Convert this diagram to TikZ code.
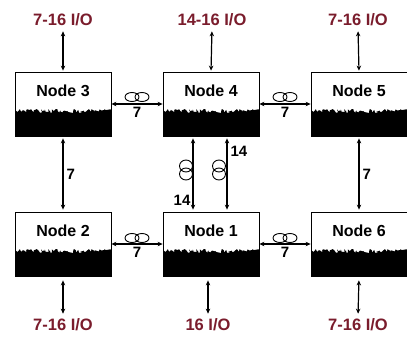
\documentclass[tikz,border=0pt]{standalone}
\usepackage{fontspec}
\setmainfont{Liberation Sans}
\usetikzlibrary{positioning}
\usetikzlibrary{arrows.meta}
\usetikzlibrary{decorations.pathmorphing}
\definecolor{iored}{RGB}{122,28,44}

\begin{document}
\begin{tikzpicture}[x=1pt,y=-1pt,
  box/.style={draw,line width=0.8pt,minimum width=96pt,minimum height=64pt,
    inner ysep=12.5pt,text height=12pt,text depth=27pt,font=\bfseries\fontsize{16}{18}\selectfont,
    path picture={\pgfmathsetseed{7}
      \fill ([yshift=25pt]path picture bounding box.south west)
        decorate[decoration={random steps,segment length=1pt,amplitude=2pt}]
        {-- ([yshift=25pt]path picture bounding box.south east)}
        -- (path picture bounding box.south east) -- (path picture bounding box.south west) -- cycle;}},
  io/.style={text=iored,font=\bfseries\fontsize{16.5}{18}\selectfont,inner sep=2pt},
  num/.style={font=\bfseries\fontsize{15}{17}\selectfont,inner sep=1pt},
  link/.style={line width=1.2pt,{Stealth[length=5pt,width=4.5pt]}-{Stealth[length=5pt,width=4.5pt]}},
  coil/.style={line width=0.9pt}]
\useasboundingbox (0,0) rectangle (407,343);

% the six nodes
\node[box] (n3) at (63,104) {Node 3};
\node[box] (n4) at (211,104) {Node 4};
\node[box] (n5) at (359,104) {Node 5};
\node[box] (n2) at (63,244) {Node 2};
\node[box] (n1) at (211,244) {Node 1};
\node[box] (n6) at (359,244) {Node 6};

% I/O labels
\node[io] (t3) at (63,20) {7-16 I/O};
\node[io] (t4) at (212,20) {14-16 I/O};
\node[io] (t5) at (358,20) {7-16 I/O};
\node[io] (b2) at (63,325) {7-16 I/O};
\node[io] (b1) at (208,325) {16 I/O};
\node[io] (b6) at (358,325) {7-16 I/O};

\draw[link,shorten <=3pt,shorten >=1pt] (t3.south) -- (n3.north);
\draw[link,shorten <=3pt,shorten >=1pt] (t4.south) -- (n4.north);
\draw[link,shorten <=3pt,shorten >=1pt] (t5.south) -- (n5.north);
\draw[link,shorten <=4pt,shorten >=3pt] (n2.south) -- (b2.north);
\draw[link,shorten <=4pt,shorten >=3pt] ([xshift=-3pt]n1.south) -- (b1.north);
\draw[link,shorten <=4pt,shorten >=3pt] (n6.south) -- (b6.north);

% links between nodes
\draw[link] (n3.east) -- node[num,below=2pt] {7} (n4.west);
\draw[link] (n4.east) -- node[num,below=2pt] {7} (n5.west);
\draw[link] (n2.east) -- node[num,below=2pt] {7} (n1.west);
\draw[link] (n1.east) -- node[num,below=2pt] {7} (n6.west);
\draw[link,shorten <=2pt,shorten >=2pt] (n3.south) -- node[num,right=2pt] {7} (n2.north);
\draw[link,shorten <=2pt,shorten >=2pt] (n5.south) -- node[num,right=2pt] {7} (n6.north);
\draw[link,shorten <=2pt,shorten >=2pt] ([xshift=-18pt]n4.south) -- node[num,pos=0.85,left=1pt] {14} ([xshift=-18pt]n1.north);
\draw[link,shorten <=2pt,shorten >=2pt] ([xshift=16pt]n4.south) -- node[num,pos=0.2,right=2pt] {14} ([xshift=16pt]n1.north);

% coils
\draw[coil] (132,97) ellipse (7pt and 4.5pt) (142,97) ellipse (7pt and 4.5pt);
\draw[coil] (280,97) ellipse (7pt and 4.5pt) (290,97) ellipse (7pt and 4.5pt);
\draw[coil] (132,238) ellipse (7pt and 4.5pt) (142,238) ellipse (7pt and 4.5pt);
\draw[coil] (280,238) ellipse (7pt and 4.5pt) (290,238) ellipse (7pt and 4.5pt);
\draw[coil] (186,166) ellipse (6.5pt and 6pt) (186,174) ellipse (6.5pt and 6pt);
\draw[coil] (219,166) ellipse (6.5pt and 6pt) (219,174) ellipse (6.5pt and 6pt);
\end{tikzpicture}
\end{document}
